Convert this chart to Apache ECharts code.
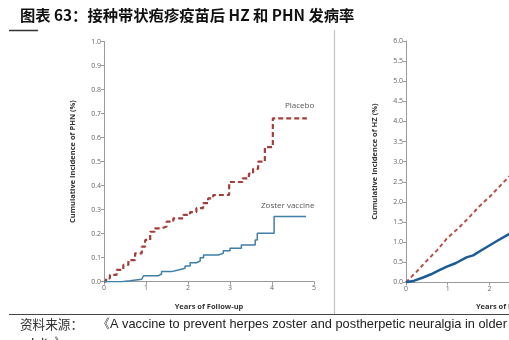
<!DOCTYPE html>
<html><head><meta charset="utf-8">
<script src="https://cdn.jsdelivr.net/npm/echarts@6/dist/echarts.min.js"></script>
<style>html,body{margin:0;padding:0;background:#fff;overflow:hidden;width:509px;height:340px}#c{width:700px;height:340px}</style>
</head><body><div id="c"></div>
<script>
// Left panel: PHN (t in years, cumulative %)
const phnPlacebo = [[0,0],[0.05,0.014],[0.14,0.028],[0.3,0.049],[0.46,0.07],[0.58,0.09],[0.74,0.118],[0.9,0.146],[0.98,0.174],[1.1,0.208],[1.21,0.222],[1.37,0.23],[1.49,0.25],[1.65,0.264],[1.89,0.278],[2.05,0.29],[2.2,0.306],[2.36,0.327],[2.48,0.347],[2.6,0.361],[2.98,0.415],[3.3,0.43],[3.45,0.45],[3.55,0.47],[3.67,0.5],[3.83,0.56],[4.02,0.68],[4.83,0.68]];
const phnVaccine = [[0,0],[0.42,0.004],[0.62,0.01],[0.9,0.017],[0.94,0.025],[1.3,0.032],[1.37,0.042],[1.61,0.049],[1.77,0.056],[1.93,0.065],[2.05,0.079],[2.2,0.086],[2.29,0.1],[2.37,0.111],[2.72,0.118],[2.84,0.129],[3.0,0.139],[3.27,0.153],[3.6,0.174],[3.65,0.2015],[4.05,0.271],[4.81,0.271]];
// Right panel: HZ
const hzPlacebo = [[0,0],[0.25,0.26],[0.5,0.54],[0.75,0.8],[0.98,1.09],[1.25,1.34],[1.5,1.6],[1.75,1.88],[2.0,2.12],[2.25,2.39],[2.5,2.66],[2.7,2.86]];
const hzVaccine = [[0,0],[0.2,0.04],[0.41,0.12],[0.6,0.2],[0.8,0.3],[0.98,0.39],[1.2,0.48],[1.45,0.62],[1.61,0.67],[1.8,0.79],[2.01,0.92],[2.2,1.04],[2.47,1.2],[2.7,1.33]];
const title = '图表 63：接种带状疱疹疫苗后 HZ 和 PHN 发病率';
const sourceHead = '资料来源：';
const source = '《A vaccine to prevent herpes zoster and postherpetic neuralgia in older';
const source2 = 'adults》';

const red = '#a33f3a', blueL = '#3f7fa8', blueR = '#1d5b96';
const axisCol = '#9a9a9a';
const lab = {color:'#666', fontSize:7, fontFamily:'Open Sans'};
function xAx(gi){return {type:'value',gridIndex:gi,min:0,max:5,interval:1,
  name:'Years of Follow-up',nameLocation:'middle',nameGap:21,
  nameTextStyle:{fontSize:7.5,fontWeight:'bold',color:'#333',fontFamily:'Open Sans'},
  axisLine:{lineStyle:{color:axisCol}},axisTick:{length:3,lineStyle:{color:axisCol}},
  axisLabel:Object.assign({margin:3},lab),splitLine:{show:false}};}
function yAx(gi,max,iv,nm){return {type:'value',gridIndex:gi,min:0,max:max,interval:iv,
  name:nm,nameLocation:'middle',nameGap:27,nameRotate:90,
  nameTextStyle:{fontSize:7.5,fontWeight:'bold',color:'#333',fontFamily:'Open Sans'},
  axisLine:{show:true,lineStyle:{color:axisCol}},axisTick:{show:true,length:3,lineStyle:{color:axisCol}},
  axisLabel:Object.assign({margin:3,formatter:v=>v.toFixed(1)},lab),splitLine:{show:false}};}

const chart = echarts.init(document.getElementById('c'),null,{renderer:'canvas',width:700,height:340});
chart.setOption({
  animation:false,
  grid:[{left:104,top:41.5,width:210,height:240.2},{left:406,top:41,width:208.5,height:241.3}],
  xAxis:[xAx(0),xAx(1)],
  yAxis:[yAx(0,1,0.1,'Cumulative Incidence of PHN (%)'),yAx(1,6,0.5,'Cumulative Incidence of HZ (%)')],
  series:[
    {type:'line',xAxisIndex:0,yAxisIndex:0,data:phnPlacebo,step:'end',symbol:'none',
     lineStyle:{color:red,width:2.2,type:[5,3]}},
    {type:'line',xAxisIndex:0,yAxisIndex:0,data:phnVaccine,step:'end',symbol:'none',
     lineStyle:{color:blueL,width:1.5}},
    {type:'line',xAxisIndex:1,yAxisIndex:1,data:hzPlacebo,symbol:'none',
     lineStyle:{color:'#b5514a',width:2,type:[4,3]}},
    {type:'line',xAxisIndex:1,yAxisIndex:1,data:hzVaccine,symbol:'none',
     lineStyle:{color:blueR,width:2.5}}
  ],
  graphic:[
    {type:'text',left:20,top:8,style:{text:title,font:'bold 15.3px "Noto Sans CJK SC"',fill:'#111'}},
    {type:'line',shape:{x1:9,y1:30.5,x2:38,y2:30.5},style:{stroke:'#333',lineWidth:1.5}},
    {type:'line',shape:{x1:334.5,y1:30,x2:334.5,y2:314},style:{stroke:'#c4c4c4',lineWidth:1.2}},
    {type:'line',shape:{x1:9,y1:314.5,x2:509,y2:314.5},style:{stroke:'#444',lineWidth:1}},
    {type:'text',left:285,top:102,style:{text:'Placebo',font:'8px "Open Sans"',fill:'#555'}},
    {type:'text',left:261,top:202,style:{text:'Zoster vaccine',font:'8px "Open Sans"',fill:'#555'}},
    {type:'text',left:20,top:318,style:{text:sourceHead,font:'12.6px "Noto Sans CJK SC"',fill:'#333'}},
    {type:'text',left:97,top:318,style:{text:source,font:'12.8px "Liberation Sans"',fill:'#222'}},
    {type:'text',left:20,top:337,style:{text:source2,font:'12.8px "Liberation Sans"',fill:'#222'}}
  ]
});
</script></body></html>
